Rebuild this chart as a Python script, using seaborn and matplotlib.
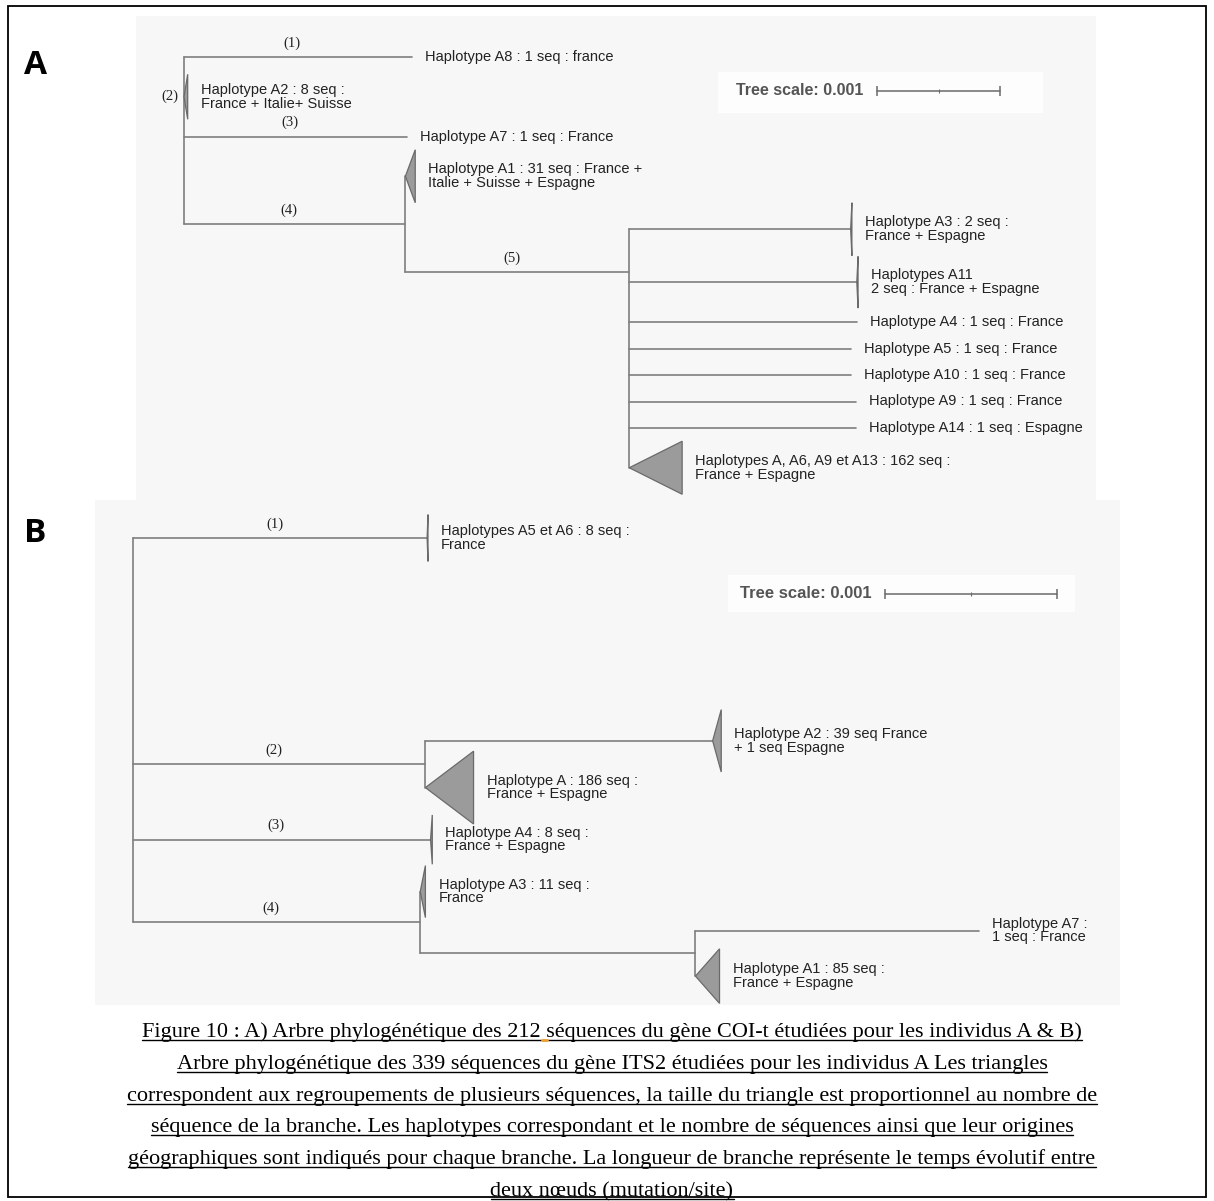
import matplotlib
matplotlib.use('Agg')
import matplotlib.pyplot as plt
import matplotlib.transforms as mtransforms
from matplotlib.patches import Polygon, Rectangle
import seaborn as sns
import pandas as pd

# ---- Panel A : COI-t tree (branch lengths in substitutions/site) ----
a_nodes = ['root', 'A8', 'A2', 'A7', 'n4', 'A1', 'n5', 'A3', 'A11',
           'A4', 'A5', 'A10', 'A9', 'A14', 'Abig']
a_parent = [None, 'root', 'root', 'root', 'root', 'n4', 'n4', 'n5', 'n5',
            'n5', 'n5', 'n5', 'n5', 'n5', 'n5']
a_branch = [0, 0.00185, 0.0, 0.00181, 0.00180, 0.0, 0.00182, 0.00180, 0.00185,
            0.00185, 0.00180, 0.00180, 0.00184, 0.00184, 0.0]
a_clade = [0, 0, 0.00003, 0, 0, 0.00008, 0, 0.00001, 0.00001,
           0, 0, 0, 0, 0, 0.00043]          # depth of collapsed clades
a_seqs = [0, 1, 8, 1, 0, 31, 0, 2, 2, 1, 1, 1, 1, 1, 162]
a_labels = {
    'A8': 'Haplotype A8 : 1 seq : france',
    'A2': 'Haplotype A2 : 8 seq :\nFrance + Italie+ Suisse',
    'A7': 'Haplotype A7 : 1 seq : France',
    'A1': 'Haplotype A1 : 31 seq : France +\nItalie + Suisse + Espagne',
    'A3': 'Haplotype A3 : 2 seq :\nFrance + Espagne',
    'A11': 'Haplotypes A11\n2 seq : France + Espagne',
    'A4': 'Haplotype A4 : 1 seq : France',
    'A5': 'Haplotype A5 : 1 seq : France',
    'A10': 'Haplotype A10 : 1 seq : France',
    'A9': 'Haplotype A9 : 1 seq : France',
    'A14': 'Haplotype A14 : 1 seq : Espagne',
    'Abig': 'Haplotypes A, A6, A9 et A13 : 162 seq :\nFrance + Espagne',
}
a_tags = {'A8': '(1)', 'A2': '(2)', 'A7': '(3)', 'n4': '(4)', 'n5': '(5)'}

# ---- Panel B : ITS2 tree ----
b_nodes = ['root', 'A5A6', 'n2', 'A2', 'HapA', 'A4', 'n4', 'A3', 'n6', 'A7', 'A1']
b_parent = [None, 'root', 'root', 'n2', 'n2', 'root', 'root', 'n4', 'n4', 'n6', 'n6']
b_branch = [0, 0.00171, 0.00170, 0.00167, 0.0, 0.00173, 0.00167, 0.0, 0.00160, 0.00165, 0.0]
b_clade = [0, 0.000005, 0, 0.00005, 0.00028, 0.00001, 0, 0.00003, 0, 0, 0.00014]
b_seqs = [0, 8, 0, 40, 186, 8, 0, 11, 0, 1, 85]
b_labels = {
    'A5A6': 'Haplotypes A5 et A6 : 8 seq :\nFrance',
    'A2': 'Haplotype A2 : 39 seq France\n+ 1 seq Espagne',
    'HapA': 'Haplotype A : 186 seq :\nFrance + Espagne',
    'A4': 'Haplotype A4 : 8 seq :\nFrance + Espagne',
    'A3': 'Haplotype A3 : 11 seq :\nFrance',
    'A7': 'Haplotype A7 :\n1 seq : France',
    'A1': 'Haplotype A1 : 85 seq :\nFrance + Espagne',
}
b_tags = {'A5A6': '(1)', 'n2': '(2)', 'A4': '(3)', 'n4': '(4)'}

scale_value = 0.001
caption_lines = [
    "Figure 10 : A) Arbre phylogénétique des 212 séquences du gène COI-t étudiées pour les individus A & B)",
    "Arbre phylogénétique des 339 séquences du gène ITS2 étudiées pour les individus A Les triangles",
    "correspondent aux regroupements de plusieurs séquences, la taille du triangle est proportionnel au nombre de",
    "séquence de la branche. Les haplotypes correspondant et le nombre de séquences ainsi que leur origines",
    "géographiques sont indiqués pour chaque branche. La longueur de branche représente le temps évolutif entre",
    "deux nœuds (mutation/site)",
]

# ---- figure setup ----
W, H = 1214, 1201
sns.set_theme(style='white')
plt.rcParams['font.family'] = ['Liberation Sans', 'DejaVu Sans']

fig = plt.figure(figsize=(W / 100, H / 100), dpi=100)
fig.patch.set_facecolor('white')
page = fig.add_axes([0, 0, 1, 1])
page.set_xlim(0, W)
page.set_ylim(H, 0)
page.axis('off')

LINE = '#7e7e7e'
TRI_FC = '#9b9b9b'
TRI_EC = '#6a6a6a'
TXT = '#222222'


def layout(nodes, parent, branch, seqs, gap, y_fix):
    kids = {n: [] for n in nodes}
    for n, p in zip(nodes, parent):
        if p is not None:
            kids[p].append(n)
    x, y, row = {}, {}, 0.0
    for n, p, b, s in zip(nodes, parent, branch, seqs):
        x[n] = (x[p] if p is not None else 0.0) + b
        if not kids[n]:
            row += gap.get(n, 0.0)
            h = 2.0 if s > 1 else 1.0
            y[n] = row + h / 2
            row += h
    for n in reversed(nodes):
        if kids[n]:
            y[n] = y_fix.get(n, (y[kids[n][0]] + y[kids[n][-1]]) / 2)
    return kids, x, y


def draw_tree(box, root_x, unit_px, row_top, row_px, nodes, parent, branch, clade,
              seqs, labels, tags, gap, y_fix, tri_h, bar, bar_box, bar_fs):
    l, t, r, b = box
    ax = fig.add_axes([l / W, 1 - b / H, (r - l) / W, (b - t) / H])
    xlim = (-(root_x - l) / unit_px * scale_value, (r - root_x) / unit_px * scale_value)
    ylim = ((b - row_top) / row_px, -(row_top - t) / row_px)

    kids, x, y = layout(nodes, parent, branch, seqs, gap, y_fix)
    rows, k = [], 0
    for n, p in zip(nodes, parent):
        if p is not None and x[n] > x[p]:
            rows += [(k, x[p], y[n]), (k, x[n], y[n])]
            k += 1
        if kids[n]:
            rows += [(k, x[n], y[kids[n][0]]), (k, x[n], y[kids[n][-1]])]
            k += 1
    segs = pd.DataFrame(rows, columns=['seg', 'x', 'y'])
    sns.lineplot(data=segs, x='x', y='y', units='seg', estimator=None, sort=False,
                 color=LINE, lw=1.2, ax=ax, legend=False)

    # collapsed clades drawn as triangles
    for n, d, s in zip(nodes, clade, seqs):
        if s > 1:
            h = tri_h[n]
            ax.add_patch(Polygon([(x[n], y[n]), (x[n] + d, y[n] - h / 2),
                                  (x[n] + d, y[n] + h / 2)], closed=True,
                                 fc=TRI_FC, ec=TRI_EC, lw=0.9, zorder=3))
    # tip labels
    for n, d in zip(nodes, clade):
        if n in labels:
            ax.annotate(labels[n], (x[n] + d, y[n]), xytext=(9.5, 0),
                        textcoords='offset points', ha='left', va='center',
                        fontsize=10.5, color=TXT, linespacing=0.98)
    # branch numbers
    pmap = dict(zip(nodes, parent))
    for n, tag in tags.items():
        p = pmap[n]
        if x[n] - x[p] > 0:
            ax.annotate(tag, ((x[p] + x[n]) / 2, y[n]), xytext=(-4, 10),
                        textcoords='offset points', ha='center', va='center',
                        family='Liberation Serif', fontsize=10.5, color='#222222')
        else:
            ax.annotate(tag, (x[n], y[n]), xytext=(-10, 0),
                        textcoords='offset points', ha='center', va='center',
                        family='Liberation Serif', fontsize=10.5, color='#222222')

    # tree scale
    bx0, by0, bx1, by1 = bar_box
    ax.add_patch(Rectangle((bx0, 1 - by1), bx1 - bx0, by1 - by0, transform=ax.transAxes,
                           fc='#fdfdfd', ec='none', zorder=1))
    trans = mtransforms.blended_transform_factory(ax.transData, ax.transAxes)
    sx = xlim[0] + bar[0] * (xlim[1] - xlim[0])
    sy = 1 - bar[1]
    ax.plot([sx, sx + scale_value], [sy, sy], transform=trans, color='#6a6a6a', lw=1.1)
    ax.plot([sx, sx + scale_value], [sy, sy], transform=trans, ls='none',
            marker='|', ms=7, mew=1.1, color='#6a6a6a')
    ax.plot([sx + scale_value / 2], [sy], transform=trans, ls='none',
            marker='|', ms=3, mew=0.8, color='#6a6a6a')
    ax.annotate('Tree scale: 0.001', (sx, sy), xycoords=trans, xytext=(-10, 0),
                textcoords='offset points', ha='right', va='center',
                fontweight='bold', color='#555555', fontsize=bar_fs)

    ax.set_xlim(*xlim)
    ax.set_ylim(*ylim)
    ax.set_facecolor('#f7f7f7')
    ax.set_xlabel('')
    ax.set_ylabel('')
    ax.set_xticks([])
    ax.set_yticks([])
    for sp in ax.spines.values():
        sp.set_visible(False)
    return ax


draw_tree((136, 16, 1096, 509), 184, 123, 43.75, 26.5,
          a_nodes, a_parent, a_branch, a_clade, a_seqs, a_labels, a_tags,
          gap={}, y_fix={'n5': 8.6},
          tri_h={'A2': 1.7, 'A1': 2.0, 'A3': 2.0, 'A11': 1.95, 'Abig': 2.0},
          bar=(0.772, 0.152), bar_box=(0.606, 0.114, 0.945, 0.197), bar_fs=11.5)

draw_tree((95, 500, 1120, 1005), 133, 172, 512, 26,
          b_nodes, b_parent, b_branch, b_clade, b_seqs, b_labels, b_tags,
          gap={'A2': 5.8, 'HapA': -0.2, 'A1': 0.25}, y_fix={},
          tri_h={'A5A6': 1.8, 'A2': 2.4, 'HapA': 2.8, 'A4': 1.9, 'A3': 2.0, 'A1': 2.1},
          bar=(0.771, 0.186), bar_box=(0.618, 0.149, 0.956, 0.222), bar_fs=12)

# panel letters
page.text(36, 66, 'A', family='Open Sans', fontweight='bold', fontsize=24,
          ha='center', va='center', color='black')
page.text(35, 534, 'B', family='Open Sans', fontweight='bold', fontsize=24,
          ha='center', va='center', color='black')

# outer frame
page.add_patch(Rectangle((8, 6), 1198, 1191, fill=False, ec='black', lw=1.3))

# caption, centred and underlined
renderer = fig.canvas.get_renderer()
for i, line in enumerate(caption_lines):
    yb = 1037 + i * 31.8
    txt = page.text(612, yb, line, ha='center', va='baseline',
                    family='Liberation Serif', fontsize=16, color='black')
    bb = txt.get_window_extent(renderer)
    page.plot([bb.x0, bb.x1], [yb + 3, yb + 3], color='black', lw=1.0)
    if i == 0:
        # small orange spell-check mark after "212"
        pre = page.text(0, 0, line[:line.index('212') + 3], family='Liberation Serif',
                        fontsize=16)
        wpre = pre.get_window_extent(renderer).width
        pre.remove()
        page.plot([bb.x0 + wpre + 1, bb.x0 + wpre + 6], [yb + 3, yb + 3],
                  color='#f0a030', lw=2.0)

fig.savefig('out.png', dpi=100, facecolor='white')
